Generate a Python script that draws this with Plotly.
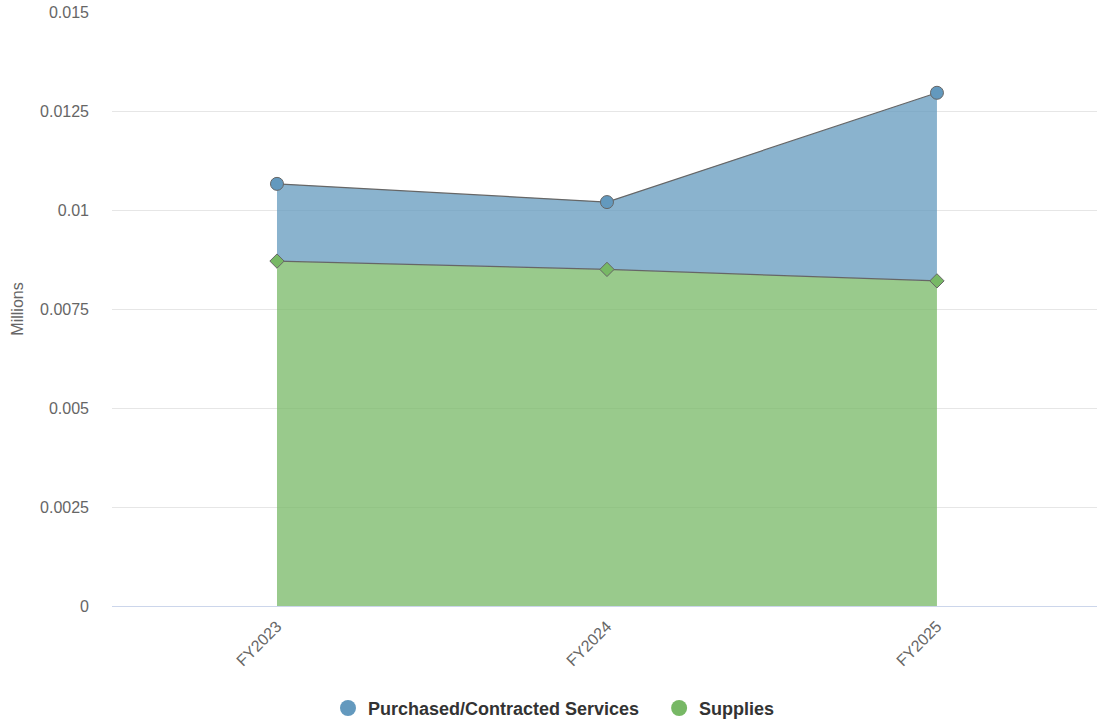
import plotly.graph_objects as go

categories = ["FY2023", "FY2024", "FY2025"]
supplies = [0.00871, 0.00850, 0.00821]
purchased = [0.00195, 0.00170, 0.00475]
y_ticks = [0, 0.0025, 0.005, 0.0075, 0.01, 0.0125, 0.015]
y_tick_labels = ["0", "0.0025", "0.005", "0.0075", "0.01", "0.0125", "0.015"]

blue = "#6399BE"
green = "#77B865"
blue_fill = "rgba(99,153,190,0.75)"
green_fill = "rgba(119,184,101,0.75)"

fig = go.Figure()
fig.add_trace(go.Scatter(
    x=categories, y=supplies, name="Supplies", stackgroup="one",
    mode="lines+markers", fillcolor=green_fill,
    line=dict(color="#666666", width=1.2),
    marker=dict(symbol="diamond", size=11, color=green, line=dict(color="#666666", width=1)),
    showlegend=False,
))
fig.add_trace(go.Scatter(
    x=categories, y=purchased, name="Purchased/Contracted Services", stackgroup="one",
    mode="lines+markers", fillcolor=blue_fill,
    line=dict(color="#666666", width=1.2),
    marker=dict(symbol="circle", size=13, color=blue, line=dict(color="#666666", width=1)),
    showlegend=False,
))
# legend entries
fig.add_trace(go.Scatter(x=[None], y=[None], mode="markers",
                         name="Purchased/Contracted Services\u00a0\u00a0\u00a0",
                         marker=dict(symbol="circle", size=16, color=blue)))
fig.add_trace(go.Scatter(x=[None], y=[None], mode="markers", name="Supplies",
                         marker=dict(symbol="circle", size=16, color=green)))

fig.update_layout(
    width=1097, height=725,
    margin=dict(l=112, r=0, t=12, b=119, autoexpand=False),
    paper_bgcolor="white", plot_bgcolor="white",
    font=dict(family="Liberation Sans, Arial, sans-serif", color="#666666", size=16),
    showlegend=True,
    legend=dict(orientation="h", xref="container", yref="container", x=0.505, y=0.023,
                xanchor="center", yanchor="middle",
                font=dict(size=18, color="#333333", weight="bold"),
                traceorder="normal"),
    hovermode=False,
)
fig.update_xaxes(
    type="category", range=[-0.5, 2.485], tickangle=-45, automargin=False,
    showgrid=False, showline=False, zeroline=False, ticklabelstandoff=7,
    tickfont=dict(size=16, color="#666666"), ticks="",
)
fig.update_yaxes(
    range=[0, 0.015], tickvals=y_ticks, ticktext=y_tick_labels, automargin=False,
    showgrid=True, gridcolor="#e6e6e6", gridwidth=1,
    zeroline=True, zerolinecolor="#ccd6eb", zerolinewidth=1,
    showline=False, ticks="", ticklabelstandoff=22,
    title=dict(text="Millions", font=dict(size=16, color="#666666"), standoff=12),
    tickfont=dict(size=16, color="#666666"),
)
fig.write_html("out.html", config={"displayModeBar": False},
               post_script="document.body.style.margin='0';document.body.style.overflow='hidden';")
